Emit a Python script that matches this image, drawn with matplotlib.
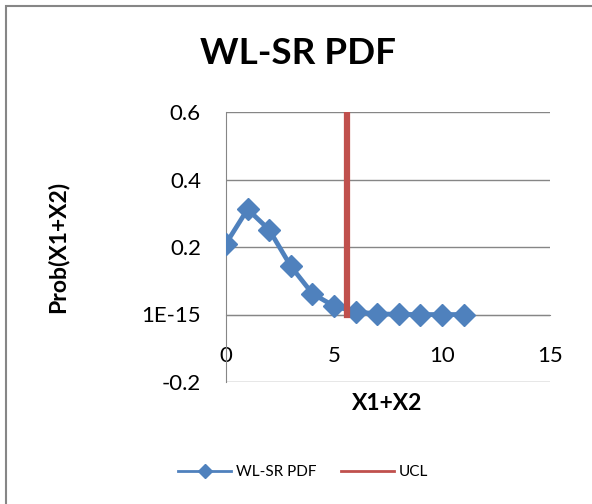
import matplotlib.pyplot as plt
from matplotlib.patches import Rectangle
from matplotlib.lines import Line2D

plt.rcParams['font.family'] = ['Lato', 'DejaVu Sans']

# dados
x_vals = [0, 1, 2, 3, 4, 5, 6, 7, 8, 9, 10, 11]
pdf_vals = [0.21, 0.312, 0.251, 0.143, 0.062, 0.025, 0.008, 0.002, 0.0005, 0.0, 0.0, 0.0]
ucl_x = [5.6, 5.6]
ucl_y = [0.0, 0.6]
x_ticks = [0, 5, 10, 15]
y_ticks = [-0.2, 0.0, 0.2, 0.4, 0.6]
y_labels = ['-0.2', '1E-15', '0.2', '0.4', '0.6']

azul = '#4F81BD'
verm = '#C0504D'
cinza = '#868686'

fig = plt.figure(figsize=(5.92, 5.04), dpi=100)
fig.patches.append(Rectangle((6/592, -0.1), 1.2, 1.1 - 6/504, transform=fig.transFigure,
                             fill=False, edgecolor=cinza, linewidth=1.5))

ax = fig.add_axes([226/592, 1 - 382/504, 324/592, 270/504])
ax.plot(x_vals, pdf_vals, color=azul, linewidth=3.4, marker='D', markersize=11,
        zorder=3)
ax.plot(ucl_x, ucl_y, color=verm, linewidth=4.5, zorder=4)

ax.set_xlim(0, 15)
ax.set_ylim(-0.2, 0.6)
ax.set_xticks(x_ticks)
ax.set_yticks(y_ticks)
ax.set_yticklabels(y_labels)
ax.grid(axis='y', color=cinza, linewidth=1)
ax.set_axisbelow(True)

for s in ['top', 'right']:
    ax.spines[s].set_visible(False)
ax.spines['bottom'].set_position(('data', 0))
ax.spines['bottom'].set_color(cinza)
ax.spines['left'].set_color(cinza)
ax.tick_params(axis='x', length=0, pad=23, labelsize=16)
ax.tick_params(axis='y', length=0, pad=18, labelsize=16)

fig.text(298/592, 1 - 53/504, 'WL-SR PDF', ha='center', va='center',
         fontsize=26.5, fontweight='bold')
fig.text(58/592, 1 - 247/504, 'Prob(X1+X2)', ha='center', va='center',
         rotation=90, fontsize=16.5, fontweight='bold')
fig.text(387/592, 1 - 404/504, 'X1+X2', ha='center', va='center',
         fontsize=16.5, fontweight='bold')

h1 = Line2D([], [], color=azul, linewidth=2, marker='D', markersize=7)
h2 = Line2D([], [], color=verm, linewidth=2)
fig.legend([h1, h2], ['WL-SR PDF', 'UCL'], loc='center',
           bbox_to_anchor=(303/592, 1 - 472/504), ncol=2,
           frameon=False, fontsize=11, handlelength=3.5, columnspacing=1.6,
           handletextpad=0.3)

plt.savefig('out.png', dpi=100)
